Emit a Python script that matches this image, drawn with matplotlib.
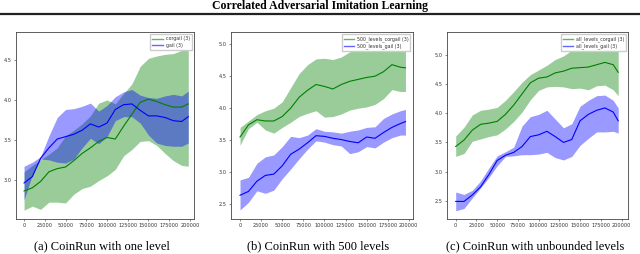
import matplotlib
matplotlib.use("Agg")
import matplotlib.pyplot as plt
from matplotlib.lines import Line2D

plt.rcParams["font.family"] = ["DejaVu Sans"]

# panel (a): CoinRun with one level
STEPS_A = [0, 10000, 20000, 30000, 40000, 50000, 60000, 70000, 80000, 90000, 100000,
           110000, 120000, 130000, 140000, 150000, 160000, 170000, 180000, 190000, 198000]
CORGAIL_A = [2.86, 2.90, 2.98, 3.10, 3.14, 3.16, 3.24, 3.33, 3.40, 3.48, 3.53,
             3.51, 3.67, 3.82, 3.97, 4.01, 3.98, 3.94, 3.91, 3.91, 3.95]
CORGAIL_A_HI = [3.10, 3.18, 3.25, 3.32, 3.40, 3.55, 3.62, 3.70, 3.80, 3.96, 4.00,
                3.95, 4.08, 4.20, 4.42, 4.52, 4.55, 4.57, 4.58, 4.62, 4.65]
CORGAIL_A_LO = [2.62, 2.67, 2.63, 2.72, 2.72, 2.71, 2.82, 2.89, 2.92, 2.99, 3.05,
                3.13, 3.30, 3.38, 3.48, 3.49, 3.43, 3.33, 3.24, 3.18, 3.17]
GAIL_A = [2.96, 3.04, 3.27, 3.40, 3.51, 3.54, 3.57, 3.62, 3.70, 3.66, 3.71,
          3.88, 3.94, 3.95, 3.87, 3.80, 3.80, 3.78, 3.74, 3.73, 3.79]
GAIL_A_HI = [3.17, 3.22, 3.29, 3.55, 3.78, 3.88, 3.89, 3.92, 3.96, 3.86, 3.93,
             4.04, 4.10, 4.13, 4.06, 4.03, 4.02, 4.05, 4.07, 4.05, 4.11]
GAIL_A_LO = [2.75, 3.06, 3.26, 3.25, 3.22, 3.21, 3.26, 3.40, 3.52, 3.45, 3.54,
             3.74, 3.79, 3.79, 3.71, 3.56, 3.46, 3.43, 3.42, 3.42, 3.46]

# panel (b): CoinRun with 500 levels
STEPS_B = [0, 10000, 20000, 30000, 40000, 50000, 60000, 70000, 80000, 90000, 100000,
           110000, 120000, 130000, 140000, 150000, 160000, 170000, 180000, 190000, 196000]
CORGAIL_B = [3.55, 3.74, 3.82, 3.80, 3.80, 3.87, 4.00, 4.17, 4.28, 4.37, 4.34,
             4.30, 4.37, 4.42, 4.45, 4.48, 4.50, 4.57, 4.68, 4.64, 4.63]
CORGAIL_B_HI = [3.70, 3.80, 3.90, 3.96, 4.00, 4.10, 4.32, 4.54, 4.68, 4.77, 4.78,
                4.76, 4.80, 4.88, 4.94, 4.97, 5.00, 5.06, 5.12, 5.14, 5.14]
CORGAIL_B_LO = [3.42, 3.68, 3.78, 3.66, 3.61, 3.70, 3.78, 3.87, 3.92, 3.96, 3.86,
                3.87, 3.91, 3.97, 4.00, 4.02, 4.06, 4.15, 4.29, 4.26, 4.26]
GAIL_B = [2.64, 2.70, 2.86, 2.95, 2.97, 3.10, 3.28, 3.36, 3.46, 3.57, 3.56,
          3.53, 3.51, 3.48, 3.46, 3.55, 3.53, 3.62, 3.70, 3.76, 3.79]
GAIL_B_HI = [2.88, 2.92, 3.14, 3.24, 3.27, 3.40, 3.56, 3.54, 3.58, 3.68, 3.64,
             3.63, 3.61, 3.64, 3.66, 3.70, 3.71, 3.84, 3.91, 3.96, 3.98]
GAIL_B_LO = [2.41, 2.53, 2.71, 2.67, 2.72, 2.90, 3.05, 3.21, 3.36, 3.49, 3.47,
             3.43, 3.41, 3.29, 3.32, 3.40, 3.38, 3.47, 3.54, 3.58, 3.58]

# panel (c): CoinRun with unbounded levels
STEPS_C = STEPS_B
CORGAIL_C = [3.43, 3.54, 3.71, 3.81, 3.83, 3.86, 3.98, 4.14, 4.33, 4.52, 4.60,
             4.62, 4.69, 4.72, 4.77, 4.78, 4.79, 4.83, 4.87, 4.83, 4.70]
CORGAIL_C_HI = [3.61, 3.76, 3.97, 4.05, 4.07, 4.10, 4.22, 4.37, 4.53, 4.66, 4.74,
                4.82, 4.92, 4.98, 5.08, 5.12, 5.15, 5.20, 5.22, 5.21, 5.18]
CORGAIL_C_LO = [3.26, 3.31, 3.52, 3.56, 3.60, 3.63, 3.73, 3.86, 4.02, 4.23, 4.39,
                4.45, 4.46, 4.45, 4.42, 4.43, 4.40, 4.47, 4.48, 4.40, 4.30]
GAIL_C = [2.49, 2.49, 2.60, 2.74, 2.95, 3.19, 3.28, 3.33, 3.43, 3.60, 3.63,
          3.69, 3.60, 3.50, 3.55, 3.87, 3.98, 4.05, 4.09, 4.02, 3.87]
GAIL_C_HI = [2.65, 2.61, 2.68, 2.84, 3.06, 3.27, 3.34, 3.42, 3.78, 3.94, 3.98,
             4.05, 3.90, 3.75, 3.82, 4.12, 4.22, 4.30, 4.31, 4.22, 4.09]
GAIL_C_LO = [2.33, 2.37, 2.55, 2.72, 2.90, 3.10, 3.26, 3.27, 3.29, 3.29, 3.30,
             3.33, 3.24, 3.20, 3.26, 3.45, 3.57, 3.68, 3.68, 3.69, 3.66]

X_TICKS = [0, 25000, 50000, 75000, 100000, 125000, 150000, 175000, 200000]
Y_TICKS_A = [3.0, 3.5, 4.0, 4.5]
Y_TICKS_BC = [2.5, 3.0, 3.5, 4.0, 4.5, 5.0]

PANELS = [
    {"rect": [0.025, 0.138, 0.278, 0.736], "steps": STEPS_A,
     "corgail": (CORGAIL_A, CORGAIL_A_LO, CORGAIL_A_HI), "gail": (GAIL_A, GAIL_A_LO, GAIL_A_HI),
     "labels": ("corgail (3)", "gail (3)"), "xlim": (-9700, 204800), "ylim": (2.51, 4.85),
     "yticks": Y_TICKS_A, "caption": "(a) CoinRun with one level", "cx": 102},
    {"rect": [0.361, 0.138, 0.284, 0.736], "steps": STEPS_B,
     "corgail": (CORGAIL_B, CORGAIL_B_LO, CORGAIL_B_HI), "gail": (GAIL_B, GAIL_B_LO, GAIL_B_HI),
     "labels": ("500_levels_corgail (3)", "500_levels_gail (3)"), "xlim": (-10650, 204700),
     "ylim": (2.27, 5.19), "yticks": Y_TICKS_BC, "caption": "(b) CoinRun with 500 levels", "cx": 318},
    {"rect": [0.698, 0.138, 0.284, 0.736], "steps": STEPS_C,
     "corgail": (CORGAIL_C, CORGAIL_C_LO, CORGAIL_C_HI), "gail": (GAIL_C, GAIL_C_LO, GAIL_C_HI),
     "labels": ("all_levels_corgail (3)", "all_levels_gail (3)"), "xlim": (-10840, 208400),
     "ylim": (2.19, 5.39), "yticks": Y_TICKS_BC, "caption": "(c) CoinRun with unbounded levels", "cx": 535},
]

figure = plt.figure(figsize=(6.4, 2.54), dpi=100)
serif = ["Liberation Serif", "DejaVu Serif"]

figure.text(0.5, 1 - 5.5 / 254, "Correlated Adversarial Imitation Learning", ha="center", va="center",
            fontsize=8.5, fontweight="bold", family=serif)
figure.add_artist(Line2D([0, 1], [1 - 13.5 / 254, 1 - 13.5 / 254], color="#222222", linewidth=1.6))

for panel in PANELS:
    axis = figure.add_axes(panel["rect"])
    steps = panel["steps"]
    mean, lower, upper = panel["corgail"]
    axis.fill_between(steps, lower, upper, color="green", alpha=0.4, linewidth=0)
    axis.plot(steps, mean, color="green", linewidth=0.8, label=panel["labels"][0])
    mean, lower, upper = panel["gail"]
    axis.fill_between(steps, lower, upper, color="blue", alpha=0.4, linewidth=0)
    axis.plot(steps, mean, color="blue", linewidth=0.8, label=panel["labels"][1])
    axis.set_xlim(*panel["xlim"])
    axis.set_ylim(*panel["ylim"])
    axis.set_xticks(X_TICKS)
    axis.set_xticklabels([str(tick) for tick in X_TICKS])
    axis.set_yticks(panel["yticks"])
    axis.tick_params(labelsize=3.6, length=1.5, width=0.4, pad=1.5, colors="#333333")
    for spine in axis.spines.values():
        spine.set_linewidth(0.6)
        spine.set_color("#444444")
    legend = axis.legend(loc="upper right", fontsize=3.4, handlelength=2.2, borderpad=0.4,
                         labelspacing=0.3, handletextpad=0.6, framealpha=1.0, fancybox=False,
                         edgecolor="#cccccc")
    for handle in legend.get_lines():
        handle.set_alpha(0.6)
        handle.set_linewidth(1.0)
    for text in legend.get_texts():
        text.set_color("#333333")
    figure.text(panel["cx"] / 640, 1 - 246 / 254, panel["caption"], ha="center", va="center",
                fontsize=9, family=serif)

figure.savefig("out.png", dpi=100)
